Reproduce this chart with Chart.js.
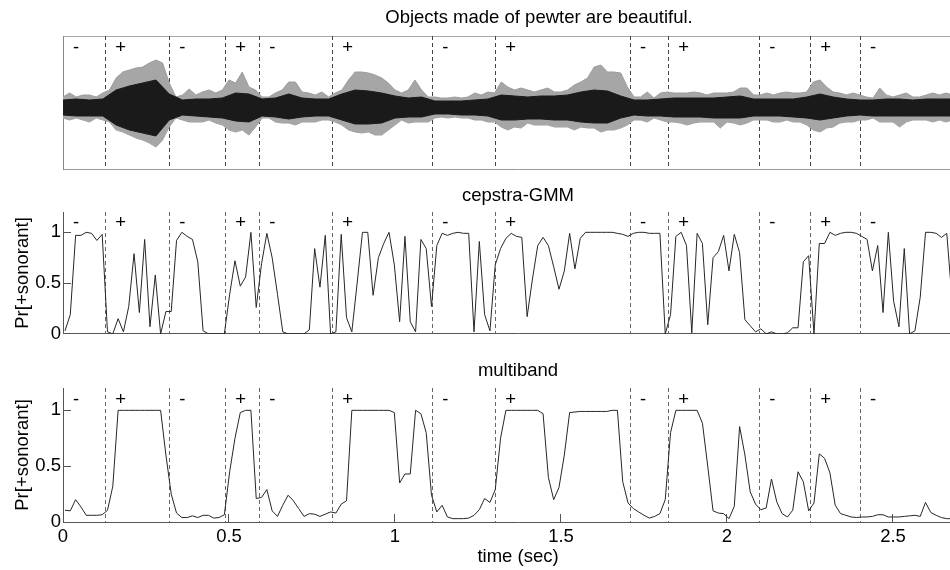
<!DOCTYPE html>
<html lang="en">
<head>
<meta charset="UTF-8">
<title>Pr[+sonorant]: cepstra-GMM vs multiband</title>
<script src="https://cdn.jsdelivr.net/npm/chart.js"></script>
<style>
  html, body { margin: 0; padding: 0; background: #fff; overflow: hidden; }
  #wrap { position: relative; width: 950px; height: 570px; overflow: hidden; }
  #wrap canvas { position: absolute; left: 0; }
</style>
</head>
<body>
<div id="wrap">
  <canvas id="waveChart" width="973" height="180" style="top:0"></canvas>
  <canvas id="cepChart" width="973" height="175" style="top:180px"></canvas>
  <canvas id="multiChart" width="973" height="215" style="top:355px"></canvas>
</div>

<script>
  const sentence = "Objects made of pewter are beautiful.";
  const yLabel = "Pr[+sonorant]";
  const xLabel = "time (sec)";

  // hand-labelled segment boundaries (sec) and the sign of each segment
  const boundaries = [0.127, 0.320, 0.489, 0.591, 0.811, 1.112, 1.302, 1.708, 1.823, 2.097, 2.251, 2.401];
  const segmentStarts = [0].concat(boundaries);
  const segmentSigns = ["-", "+", "-", "+", "-", "+", "-", "+", "-", "+", "-", "+", "-"];

  const xTicks = [0, 0.5, 1, 1.5, 2, 2.5];
  const yTicks = [0, 0.5, 1];
  const X_MAX = 2.741;

  // detector output, one value per 16 ms frame, first frame at 6 ms
  const frameStart = 0.006;
  const frameStep = 0.016;
  const cepstraGmm = [
    0.03, 0.19, 0.97, 0.97, 1.00, 0.99, 0.92, 0.98, 0.02, 0.00,
    0.15, 0.02, 0.27, 0.79, 0.21, 0.93, 0.07, 0.58, 0.00, 0.22,
    0.22, 0.92, 1.00, 0.96, 0.93, 0.71, 0.03, 0.00, 0.00, 0.00,
    0.00, 0.39, 0.72, 0.47, 0.56, 1.00, 0.26, 0.69, 0.99, 0.75,
    0.39, 0.02, 0.00, 0.00, 0.00, 0.00, 0.04, 0.84, 0.46, 0.97,
    0.00, 0.02, 0.98, 0.16, 0.02, 0.50, 1.00, 1.00, 0.38, 0.75,
    0.89, 1.00, 0.68, 0.12, 0.96, 0.12, 0.02, 0.93, 0.84, 0.27,
    0.87, 0.99, 0.97, 0.99, 1.00, 0.99, 0.99, 0.02, 0.91, 0.19,
    0.03, 0.68, 0.84, 0.94, 0.99, 0.96, 0.95, 0.17, 0.54, 0.87,
    0.95, 0.87, 0.66, 0.44, 0.62, 0.99, 0.64, 0.94, 1.00, 1.00,
    1.00, 1.00, 1.00, 1.00, 0.99, 0.98, 0.96, 0.99, 1.00, 1.00,
    0.99, 0.99, 0.99, 0.00, 0.19, 0.96, 1.00, 0.87, 0.01, 0.99,
    0.89, 0.09, 0.75, 0.81, 0.97, 0.62, 0.98, 0.80, 0.14, 0.08,
    0.02, 0.05, 0.00, 0.02, 0.00, 0.00, 0.01, 0.06, 0.06, 0.71,
    0.77, 0.00, 0.89, 0.89, 1.00, 0.97, 0.99, 1.00, 1.00, 0.99,
    0.96, 0.93, 0.62, 0.87, 0.21, 1.00, 0.32, 0.07, 0.84, 0.00,
    0.03, 0.36, 1.00, 1.00, 0.99, 0.95, 0.99, 0.33
  ];
  const multiband = [
    0.105, 0.10, 0.20, 0.135, 0.06, 0.06, 0.06, 0.065, 0.105, 0.32,
    1.00, 1.00, 1.00, 1.00, 1.00, 1.00, 1.00, 1.00, 1.00, 0.60,
    0.25, 0.08, 0.04, 0.04, 0.055, 0.04, 0.06, 0.06, 0.035, 0.04,
    0.065, 0.45, 0.75, 0.98, 1.00, 1.00, 0.21, 0.22, 0.29, 0.10,
    0.05, 0.15, 0.24, 0.19, 0.12, 0.05, 0.075, 0.07, 0.05, 0.07,
    0.09, 0.08, 0.16, 0.19, 1.00, 1.00, 1.00, 1.00, 1.00, 1.00,
    1.00, 1.00, 0.98, 0.35, 0.43, 0.43, 1.00, 0.97, 0.80, 0.24,
    0.09, 0.15, 0.045, 0.03, 0.03, 0.03, 0.035, 0.06, 0.11, 0.21,
    0.175, 0.29, 0.75, 1.00, 1.00, 1.00, 1.00, 1.00, 1.00, 1.00,
    0.97, 0.40, 0.20, 0.31, 0.60, 0.98, 0.985, 0.99, 0.99, 0.99,
    0.99, 0.99, 0.99, 1.00, 1.00, 0.36, 0.17, 0.12, 0.09, 0.06,
    0.035, 0.05, 0.075, 0.20, 0.80, 1.00, 1.00, 1.00, 1.00, 1.00,
    0.885, 0.50, 0.10, 0.08, 0.075, 0.03, 0.14, 0.855, 0.60, 0.27,
    0.16, 0.11, 0.125, 0.385, 0.18, 0.075, 0.045, 0.105, 0.45, 0.36,
    0.10, 0.17, 0.61, 0.57, 0.44, 0.15, 0.075, 0.06, 0.045, 0.04,
    0.045, 0.045, 0.05, 0.065, 0.065, 0.045, 0.045, 0.045, 0.05, 0.055,
    0.06, 0.05, 0.175, 0.085, 0.06, 0.04, 0.03, 0.03
  ];

  // waveform: outer peak envelope every 20 ms, dense core every 40 ms
  const waveStep = 0.02;
  const waveUpper = [
    0.11, 0.15, 0.11, 0.13, 0.13, 0.11, 0.15, 0.18, 0.30, 0.36,
    0.38, 0.40, 0.41, 0.45, 0.48, 0.45, 0.25, 0.11, 0.13, 0.19,
    0.13, 0.16, 0.18, 0.15, 0.18, 0.28, 0.25, 0.36, 0.21, 0.18,
    0.11, 0.11, 0.15, 0.18, 0.26, 0.26, 0.16, 0.15, 0.13, 0.16,
    0.11, 0.15, 0.18, 0.28, 0.36, 0.36, 0.35, 0.33, 0.30, 0.25,
    0.18, 0.15, 0.18, 0.28, 0.18, 0.11, 0.11, 0.10, 0.10, 0.11,
    0.10, 0.11, 0.15, 0.13, 0.16, 0.15, 0.26, 0.21, 0.18, 0.20,
    0.18, 0.16, 0.18, 0.20, 0.16, 0.16, 0.18, 0.23, 0.26, 0.30,
    0.41, 0.43, 0.36, 0.36, 0.35, 0.21, 0.11, 0.11, 0.16, 0.10,
    0.15, 0.16, 0.15, 0.15, 0.15, 0.16, 0.15, 0.13, 0.15, 0.15,
    0.15, 0.16, 0.20, 0.20, 0.13, 0.13, 0.15, 0.13, 0.15, 0.16,
    0.15, 0.15, 0.16, 0.26, 0.28, 0.21, 0.16, 0.15, 0.13, 0.15,
    0.13, 0.11, 0.10, 0.20, 0.13, 0.11, 0.13, 0.15, 0.11, 0.11,
    0.13, 0.15, 0.13, 0.15, 0.13
  ];
  const waveLower = [
    -0.10, -0.12, -0.10, -0.12, -0.14, -0.10, -0.12, -0.14, -0.22, -0.24,
    -0.27, -0.30, -0.32, -0.35, -0.39, -0.32, -0.19, -0.10, -0.12, -0.14,
    -0.14, -0.14, -0.12, -0.15, -0.17, -0.22, -0.24, -0.22, -0.27, -0.19,
    -0.10, -0.10, -0.14, -0.15, -0.15, -0.17, -0.14, -0.14, -0.14, -0.12,
    -0.12, -0.14, -0.17, -0.22, -0.24, -0.25, -0.24, -0.27, -0.27, -0.22,
    -0.17, -0.12, -0.15, -0.14, -0.14, -0.14, -0.10, -0.09, -0.10, -0.09,
    -0.10, -0.10, -0.12, -0.12, -0.14, -0.14, -0.19, -0.22, -0.19, -0.20,
    -0.15, -0.17, -0.17, -0.17, -0.19, -0.19, -0.19, -0.22, -0.19, -0.20,
    -0.20, -0.24, -0.22, -0.22, -0.20, -0.17, -0.12, -0.12, -0.14, -0.10,
    -0.12, -0.14, -0.14, -0.15, -0.17, -0.15, -0.14, -0.14, -0.14, -0.20,
    -0.14, -0.15, -0.17, -0.15, -0.12, -0.12, -0.12, -0.14, -0.14, -0.12,
    -0.14, -0.14, -0.17, -0.22, -0.24, -0.20, -0.19, -0.15, -0.14, -0.14,
    -0.12, -0.12, -0.10, -0.14, -0.14, -0.14, -0.19, -0.14, -0.12, -0.12,
    -0.12, -0.14, -0.12, -0.14, -0.12
  ];
  const coreStep = 0.04;
  const coreUpper = [
    0.08, 0.09, 0.08, 0.09, 0.18, 0.22, 0.25, 0.28, 0.14, 0.08,
    0.09, 0.09, 0.10, 0.15, 0.14, 0.09, 0.10, 0.14, 0.10, 0.09,
    0.09, 0.14, 0.18, 0.17, 0.15, 0.12, 0.10, 0.11, 0.07, 0.07,
    0.07, 0.08, 0.09, 0.13, 0.12, 0.11, 0.12, 0.12, 0.13, 0.16,
    0.18, 0.17, 0.12, 0.08, 0.08, 0.09, 0.10, 0.10, 0.10, 0.10,
    0.11, 0.12, 0.09, 0.09, 0.09, 0.09, 0.11, 0.14, 0.11, 0.09,
    0.08, 0.08, 0.09, 0.09, 0.08, 0.09, 0.09, 0.09
  ];
  const coreLower = [
    -0.07, -0.08, -0.08, -0.08, -0.17, -0.22, -0.25, -0.28, -0.12, -0.07,
    -0.08, -0.09, -0.10, -0.13, -0.14, -0.08, -0.09, -0.11, -0.09, -0.08,
    -0.08, -0.12, -0.16, -0.16, -0.15, -0.10, -0.09, -0.09, -0.06, -0.06,
    -0.07, -0.07, -0.08, -0.12, -0.12, -0.11, -0.11, -0.12, -0.12, -0.14,
    -0.15, -0.15, -0.10, -0.07, -0.08, -0.08, -0.09, -0.09, -0.09, -0.10,
    -0.10, -0.10, -0.08, -0.08, -0.08, -0.09, -0.10, -0.12, -0.10, -0.08,
    -0.07, -0.08, -0.08, -0.08, -0.08, -0.08, -0.08, -0.08
  ];

  const FONT = '"Liberation Sans", Arial, Helvetica, sans-serif';
  const FONT_SIZE = 18.5;
  Chart.defaults.font.family = FONT;
  Chart.defaults.font.size = FONT_SIZE;
  Chart.defaults.color = "#000";

  function points(values, t0, dt) {
    return values.map((v, i) => ({ x: t0 + dt * i, y: v }));
  }

  // dashed segment boundaries, +/- labels and the panel title
  const segmentMarks = {
    id: "segmentMarks",
    beforeDatasetsDraw(chart, args, opts) {
      const { ctx, chartArea: a, scales: { x } } = chart;
      ctx.save();
      ctx.strokeStyle = opts.dashColor;
      ctx.lineWidth = 1;
      ctx.setLineDash([4, 3]);
      boundaries.forEach(b => {
        const px = Math.round(x.getPixelForValue(b)) + 0.5;
        ctx.beginPath();
        ctx.moveTo(px, a.top);
        ctx.lineTo(px, a.bottom);
        ctx.stroke();
      });
      ctx.restore();
    },
    afterDatasetsDraw(chart, args, opts) {
      const { ctx, chartArea: a, scales: { x } } = chart;
      ctx.save();
      ctx.fillStyle = "#000";
      ctx.font = FONT_SIZE + "px " + FONT;
      ctx.textBaseline = "middle";
      ctx.textAlign = "left";
      segmentStarts.forEach((s, i) => {
        ctx.fillText(segmentSigns[i], x.getPixelForValue(s) + 10, a.top + opts.signDy);
      });
      ctx.textAlign = "center";
      ctx.fillText(opts.title, a.left + opts.titleDx, a.top - opts.titleDy);
      ctx.restore();
    }
  };

  const baseOptions = {
    responsive: false,
    animation: false,
    devicePixelRatio: 1,
    elements: { point: { radius: 0 }, line: { tension: 0 } }
  };

  const AXIS = "#555";

  function probYAxis() {
    return {
      min: 0, max: 1.2,
      afterBuildTicks: s => { s.ticks = yTicks.map(v => ({ value: v })); },
      ticks: { padding: 10, callback: v => String(v) },
      grid: { display: true, drawOnChartArea: false, drawTicks: true, tickLength: -8, color: AXIS },
      border: { color: AXIS },
      title: { display: true, text: yLabel, padding: { top: 12, bottom: 0 } },
      afterFit: s => { s.width = 63; }
    };
  }

  // top panel: speech waveform (dense core drawn over the peak envelope)
  new Chart(document.getElementById("waveChart"), {
    type: "line",
    data: {
      datasets: [
        { data: points(coreUpper, 0, coreStep), borderColor: "#1a1a1a", backgroundColor: "#1a1a1a", borderWidth: 1, fill: "+1", order: 0 },
        { data: points(coreLower, 0, coreStep), borderColor: "#1a1a1a", borderWidth: 1, fill: false, order: 1 },
        { data: points(waveUpper, 0, waveStep), borderColor: "#9c9c9c", backgroundColor: "#a6a6a6", borderWidth: 1, fill: "+1", order: 2 },
        { data: points(waveLower, 0, waveStep), borderColor: "#9c9c9c", borderWidth: 1, fill: false, order: 3 }
      ]
    },
    options: Object.assign({}, baseOptions, {
      layout: { padding: 0 },
      scales: {
        x: { type: "linear", min: 0, max: X_MAX, ticks: { display: false }, grid: { display: false },
             border: { color: "#999" }, afterFit: s => { s.height = 11; } },
        xTop: { type: "linear", position: "top", min: 0, max: X_MAX, ticks: { display: false }, grid: { display: false },
                border: { color: "#aaa" }, afterFit: s => { s.height = 36; } },
        y: { min: -0.61, max: 0.72, ticks: { display: false }, grid: { display: false },
             border: { color: "#888" }, afterFit: s => { s.width = 63; } }
      },
      plugins: {
        legend: { display: false },
        tooltip: { enabled: false },
        segmentMarks: { title: sentence, titleDx: 476, titleDy: 18.5, signDy: 12, dashColor: "#444" }
      }
    }),
    plugins: [segmentMarks]
  });

  // middle panel: cepstra-GMM
  new Chart(document.getElementById("cepChart"), {
    type: "line",
    data: {
      datasets: [
        { data: points(cepstraGmm, frameStart, frameStep), borderColor: "#262626", borderWidth: 1, fill: false }
      ]
    },
    options: Object.assign({}, baseOptions, {
      layout: { padding: { top: 32, left: 0, right: 0, bottom: 0 } },
      scales: {
        x: { type: "linear", min: 0, max: X_MAX, ticks: { display: false }, grid: { display: false },
             border: { color: AXIS }, afterFit: s => { s.height = 11; } },
        y: probYAxis()
      },
      plugins: {
        legend: { display: false },
        tooltip: { enabled: false },
        segmentMarks: { title: "cepstra-GMM", titleDx: 455, titleDy: 16, signDy: 11, dashColor: "#666" }
      }
    }),
    plugins: [segmentMarks]
  });

  // bottom panel: multiband
  new Chart(document.getElementById("multiChart"), {
    type: "line",
    data: {
      datasets: [
        { data: points(multiband, frameStart, frameStep), borderColor: "#262626", borderWidth: 1, fill: false }
      ]
    },
    options: Object.assign({}, baseOptions, {
      layout: { padding: { top: 33, left: 0, right: 0, bottom: 0 } },
      scales: {
        x: {
          type: "linear", min: 0, max: X_MAX,
          afterBuildTicks: s => { s.ticks = xTicks.map(v => ({ value: v })); },
          ticks: { padding: 12, maxRotation: 0, autoSkip: false, callback: v => String(v) },
          grid: { display: true, drawOnChartArea: false, drawTicks: true, tickLength: -8, color: AXIS },
          border: { color: AXIS },
          title: { display: true, text: xLabel, padding: { top: 0, bottom: 2 } },
          afterFit: s => { s.height = 48; }
        },
        y: probYAxis()
      },
      plugins: {
        legend: { display: false },
        tooltip: { enabled: false },
        segmentMarks: { title: "multiband", titleDx: 455, titleDy: 17, signDy: 12, dashColor: "#666" }
      }
    }),
    plugins: [segmentMarks]
  });
</script>
</body>
</html>
